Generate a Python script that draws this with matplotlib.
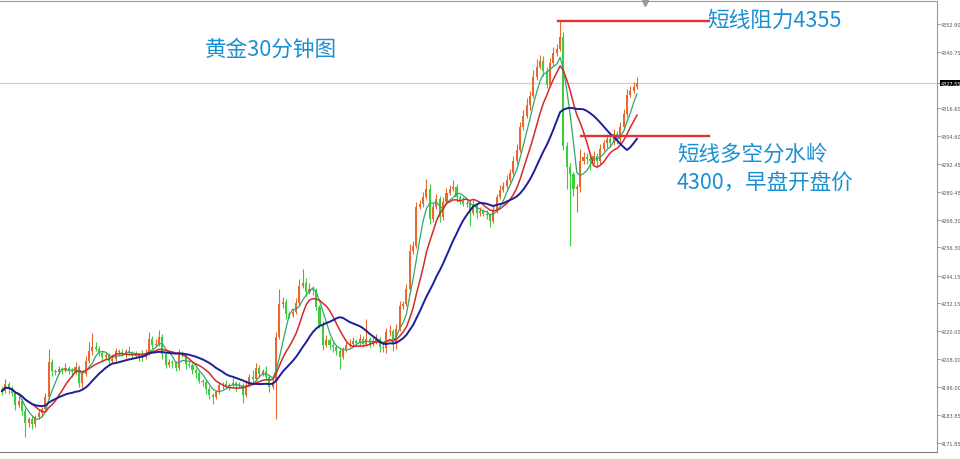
import matplotlib
matplotlib.use('Agg')
import matplotlib.pyplot as plt
import numpy as np
import pandas as pd
from matplotlib import font_manager

plt.rcParams['font.family'] = ['Noto Sans CJK SC', 'DejaVu Sans']

# ---------------- data ----------------
first_open = 4195.0
closes = [
    4194.2, 4197.3, 4195.1, 4193.4, 4188.2, 4189.9, 4185.6, 4180.4, 4182.1, 4180.0,
    4183.0, 4184.7, 4186.5, 4191.6, 4206.8, 4202.9, 4202.5, 4203.7, 4203.3, 4204.2,
    4202.9, 4202.5, 4204.6, 4197.7, 4201.6, 4207.2, 4211.5, 4213.3, 4212.4, 4210.7,
    4208.9, 4209.8, 4207.2, 4208.1, 4211.5, 4211.1, 4210.2, 4211.5, 4210.7, 4210.2,
    4209.4, 4209.8, 4208.9, 4210.7, 4216.7, 4214.1, 4214.6, 4217.6, 4210.2, 4205.5,
    4206.8, 4206.3, 4204.2, 4210.2, 4209.8, 4205.9, 4205.5, 4203.3, 4202.0, 4198.6,
    4198.1, 4195.1, 4192.5, 4191.6, 4193.8, 4196.8, 4197.3, 4196.4, 4196.8, 4197.7,
    4196.4, 4196.8, 4192.5, 4196.8, 4200.3, 4199.4, 4204.2, 4201.6, 4202.9, 4200.3,
    4196.0, 4198.1, 4217.6, 4231.8, 4232.7, 4227.5, 4227.1, 4228.4, 4232.3, 4239.6,
    4240.9, 4237.0, 4238.3, 4237.9, 4230.6, 4222.8, 4214.1, 4216.3, 4214.1, 4213.3,
    4211.5, 4208.9, 4212.4, 4214.1, 4214.6, 4215.9, 4215.0, 4216.7, 4214.6, 4216.7,
    4214.6, 4215.9, 4216.7, 4213.3, 4212.8, 4219.7, 4220.2, 4214.6, 4221.0, 4231.0,
    4231.8, 4238.3, 4254.8, 4256.9, 4273.8, 4275.1, 4278.1, 4281.6, 4268.6, 4273.8,
    4277.2, 4269.5, 4275.9, 4279.8, 4281.6, 4282.4, 4278.1, 4276.4, 4275.1, 4275.5,
    4271.2, 4274.6, 4271.2, 4272.1, 4270.8, 4270.3, 4267.7, 4272.5, 4278.1, 4281.1,
    4282.9, 4285.5, 4288.5, 4293.7, 4298.4, 4308.4, 4313.1, 4317.9, 4321.8, 4330.0,
    4334.3, 4336.9, 4332.6, 4326.5, 4336.0, 4340.4, 4342.1, 4347.3, 4300.2, 4291.1,
    4288.0, 4281.6, 4282.4, 4293.7, 4295.4, 4294.5, 4293.7, 4295.8, 4293.7, 4298.9,
    4301.4, 4303.2, 4301.4, 4305.3, 4303.2, 4308.4, 4314.0, 4322.2, 4323.9, 4325.7,
    4327.4,
]
wick_up = [
    1.5, 2, 1, 1.5, 1, 2, 1, 1.5, 1, 1.5,
    1, 1.5, 1, 2, 5.6, 1.5, 1, 1.5, 1, 2,
    1, 1.5, 2, 1, 1.5, 2, 4, 6, 2, 1.5,
    1, 1.5, 1, 2, 1.5, 1, 1.5, 1, 2, 1,
    1.5, 1, 2, 1.5, 3, 1.5, 2, 3, 1.5, 1,
    1.5, 1, 1, 2, 1.5, 1, 1.5, 1, 1, 1.5,
    1, 1, 1.5, 1, 1, 1.5, 1, 1.5, 1, 2,
    1, 1.5, 1, 2, 1.5, 3, 2, 1.5, 1, 2,
    1, 1.5, 2, 6.5, 2, 1.5, 1, 1.5, 2, 3,
    6, 2, 2.5, 1.5, 1, 1, 1.5, 2, 1, 1.5,
    1, 1.5, 1, 1.5, 2, 1.5, 1, 2, 1.5, 8.7,
    1, 1.5, 2, 1, 1.5, 2, 2.5, 1, 2, 2,
    1.5, 2, 3, 2, 2, 1.5, 2, 4.3, 2, 1.5,
    2, 1.5, 2, 2, 1.5, 3, 1.5, 1, 1.5, 1,
    1.5, 2, 1, 1.5, 1, 1.5, 1, 2, 1.5, 2,
    1.5, 2, 1.5, 2, 2.5, 2, 2.5, 3, 2, 3,
    3.5, 2.5, 2, 1.5, 2, 2.5, 2, 6.9, 2, 1.5,
    1.5, 1, 1.5, 5, 2, 1.5, 1.5, 2, 1.5, 2,
    1.5, 2, 1.5, 2, 1.5, 2, 2, 2.5, 2, 2,
    2.6,
]
wick_dn = [
    1.5, 1, 2, 1.5, 2, 1, 1.5, 6, 1.5, 2,
    1.5, 1, 1.5, 1, 1, 2, 1.5, 1, 1.5, 1,
    1.5, 2, 1, 1.5, 2, 1, 1, 1.5, 1, 1.5,
    2, 1, 1.5, 1, 1, 1.5, 1, 1.5, 1, 1.5,
    1, 2, 1.5, 1, 1, 1.5, 1, 1, 2, 1.5,
    1, 2, 1.5, 1, 1, 2, 1, 1.5, 2, 1,
    1.5, 2, 1.5, 3, 1, 1, 1.5, 1, 1.5, 1,
    2, 1, 3.5, 1, 1, 1.5, 1, 1.5, 1, 1.5,
    2, 1, 16, 1, 1.5, 2, 1.5, 1, 1, 1.5,
    1, 1.5, 1, 2, 1.5, 1.5, 2, 1, 1.5, 2,
    1.5, 5, 1, 1.5, 1, 1.5, 1, 1, 1.5, 1,
    1.5, 1, 1.5, 2, 1.5, 2, 1.5, 3, 2, 1,
    1.5, 1, 2, 1.5, 1, 1, 1.5, 1, 2.2, 1.5,
    1, 2, 1.5, 1, 1, 1, 2, 1.5, 1, 1.5,
    5.6, 1, 2, 1.5, 1, 1.5, 2.6, 1, 1.5, 1,
    1, 1.5, 1, 1, 1.5, 1, 1.5, 1, 2, 1,
    1.5, 1, 2, 1.5, 1, 1, 1.5, 1, 2, 9.6,
    31, 3, 10, 2, 1.5, 2, 4, 1.5, 2, 1.5,
    1, 2, 1.5, 1, 2, 1.5, 1, 1.5, 1, 1,
    1,
]
axis_ticks = [4352.90, 4340.75, 4327.55, 4316.60, 4304.60, 4292.45, 4280.45,
              4268.30, 4256.30, 4244.15, 4232.15, 4220.00, 4208.00, 4196.00,
              4183.85, 4171.85]
tick_labels = ['4352.90', '4340.75', '4327.55', '4316.60', '4304.60', '4292.45',
               '4280.45', '4268.30', '4256.30', '4244.15', '4232.15', '4220.00',
               '4208.00', '4196.00', '4183.85', '4171.85']
current_price = 4327.55
resistance_level = 4354.0
pivot_level = 4304.5
title_text = '黄金30分钟图'
resist_text = '短线阻力4355'
pivot_text1 = '短线多空分水岭'
pivot_text2 = '4300，早盘开盘价'

# ---------------- derived ----------------
n = min(len(closes), len(wick_up), len(wick_dn))
closes = np.array(closes[:n])
opens = np.concatenate([[first_open], closes[:-1]])
body_top = np.maximum(opens, closes)
body_bot = np.minimum(opens, closes)
highs = body_top + np.array(wick_up[:n])
lows = body_bot - np.array(wick_dn[:n])
x = np.arange(n)
s = pd.Series(closes)
ma5 = s.rolling(5, min_periods=1).mean()
ma10 = s.rolling(10, min_periods=1).mean()
ma20 = s.rolling(20, min_periods=1).mean()

UP = '#e8692c'
DN = '#3ccc3c'
TXT = '#1b8fd4'

installed = {f.name for f in font_manager.fontManager.ttflist}
narrow = 'Liberation Sans Narrow' if 'Liberation Sans Narrow' in installed else 'DejaVu Sans'
tick_size = 4.7 if narrow != 'DejaVu Sans' else 3.6

fig = plt.figure(figsize=(9.6, 4.6), dpi=100)
fig.patch.set_facecolor('white')
ax = fig.add_axes([0, 7 / 460, 937 / 960, 451 / 460])
ax.set_facecolor('white')

px = 3.342  # pixels per candle
ax.set_xlim(-2 / px, 935 / px)
ax.set_ylim(4167.9, 4362.8)

up = closes >= opens
colors = np.where(up, UP, DN)
ax.vlines(x, lows, highs, colors=colors, linewidth=0.8, zorder=2)
heights = np.maximum(body_top - body_bot, 0.35)
ax.bar(x, heights, bottom=body_bot, width=0.62, color=colors, linewidth=0, zorder=3)

ax.plot(x, ma5, color='#2fa86a', linewidth=0.9, zorder=4)
ax.plot(x, ma10, color='#d42a2a', linewidth=1.1, zorder=4)
ax.plot(x, ma20, color='#1c1f9a', linewidth=1.4, zorder=4)

# current price line
ax.axhline(current_price, color='#cfcfcf', linewidth=0.9, zorder=1)

# annotation lines
ax.plot([556 / px, 707 / px], [resistance_level] * 2, color='#e03434', linewidth=1.7, zorder=5)
ax.plot([579 / px, 707 / px], [pivot_level] * 2, color='#e03434', linewidth=1.7, zorder=5)

# spines / axis
ax.spines['left'].set_visible(False)
for side in ['top', 'bottom', 'right']:
    ax.spines[side].set_color('#9a9a9a')
    ax.spines[side].set_linewidth(0.8)
ax.spines['bottom'].set_color('#808080')
ax.set_xticks([])
ax.yaxis.tick_right()
ax.set_yticks(axis_ticks)
ax.set_yticklabels(tick_labels)
ax.tick_params(axis='y', length=2.0, width=0.6, color='#888888', pad=0.5,
               labelsize=tick_size, labelcolor='#555555')
for lab in ax.get_yticklabels():
    lab.set_fontfamily([narrow])
labels = ax.get_yticklabels()
idx = tick_labels.index('4327.55')
labels[idx].set_color('white')
labels[idx].set_bbox(dict(facecolor='black', edgecolor='none', pad=0.4))

# small top marker
ax.plot([643 / px], [4362.0], marker='v', markersize=4, color='#999999', clip_on=False, zorder=6)

# texts
fig.text(205 / 960, 1 - 50 / 460, title_text, color=TXT, fontsize=15.6, ha='left', va='center')
fig.text(707 / 960, 1 - 21 / 460, resist_text, color=TXT, fontsize=15.6, ha='left', va='center')
fig.text(677 / 960, 1 - 155 / 460, pivot_text1, color=TXT, fontsize=15.5, ha='left', va='center')
fig.text(677 / 960, 1 - 184 / 460, pivot_text2, color=TXT, fontsize=15.5, ha='left', va='center')

fig.savefig('out.png', dpi=100, facecolor='white')
